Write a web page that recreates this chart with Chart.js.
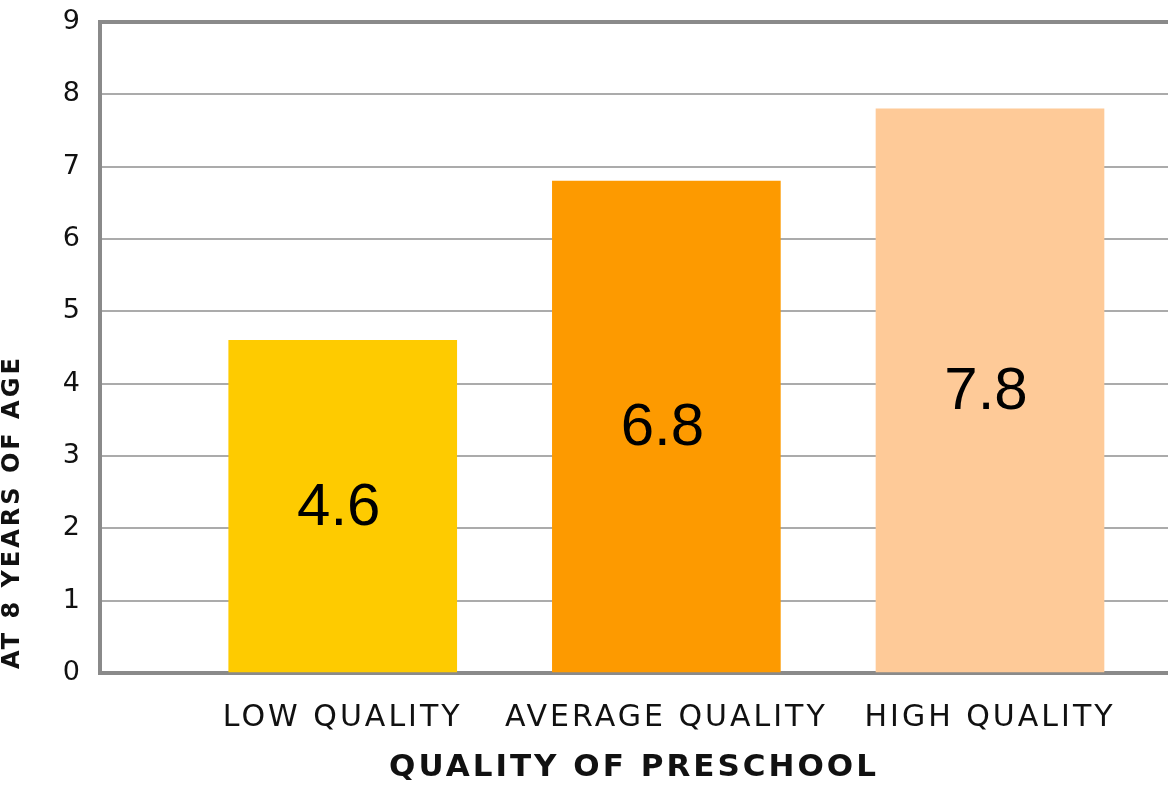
<!DOCTYPE html>
<html>
<head>
<meta charset="utf-8">
<script src="https://cdn.jsdelivr.net/npm/chart.js@4"></script>
<style>
  html, body { margin: 0; background: #fff; overflow: hidden; }
  #wrap { width: 1168px; height: 785px; position: relative; }
</style>
</head>
<body>
<div id="wrap"><canvas id="grafico"></canvas></div>
<script>
// Dados
const categorias = ["LOW QUALITY", "AVERAGE QUALITY", "HIGH QUALITY"];
const valores = [4.6, 6.8, 7.8];
const rotulos = ["4.6", "6.8", "7.8"];
const cores = ["#FECB00", "#FD9A00", "#FECA98"];
const ticksY = [0, 1, 2, 3, 4, 5, 6, 7, 8, 9];
const tituloX = "QUALITY OF PRESCHOOL";
const tituloY = "AT 8 YEARS OF AGE";

// Espaçamento de letras (a fonte original é bem larga)
const espacamento = {
  id: "espacamento",
  beforeUpdate(chart) { chart.ctx.letterSpacing = "3px"; },
  beforeDraw(chart) { chart.ctx.letterSpacing = "3px"; }
};

// Valores no meio das barras
const rotulosBarras = {
  id: "rotulosBarras",
  afterDatasetsDraw(chart) {
    const ctx = chart.ctx;
    chart.getDatasetMeta(0).data.forEach((bar, i) => {
      ctx.save();
      ctx.letterSpacing = "0px";
      ctx.font = '60px "Liberation Sans"';
      ctx.fillStyle = "#000";
      ctx.textAlign = "center";
      ctx.textBaseline = "middle";
      ctx.fillText(rotulos[i], bar.x - 4, (bar.y + bar.base) / 2 + 2);
      ctx.restore();
    });
  }
};

// Título do eixo Y, encostado na borda esquerda como no original
const tituloEixoY = {
  id: "tituloEixoY",
  afterDraw(chart) {
    const ctx = chart.ctx;
    ctx.save();
    ctx.translate(19, chart.chartArea.bottom - 4);
    ctx.rotate(-Math.PI / 2);
    ctx.font = 'bold 24px "DejaVu Sans"';
    ctx.fillStyle = "#111";
    ctx.textAlign = "left";
    ctx.textBaseline = "alphabetic";
    ctx.fillText(tituloY, 0, 0);
    ctx.restore();
  }
};

const ctx = document.getElementById("grafico").getContext("2d");
new Chart(ctx, {
  type: "bar",
  data: {
    datasets: [{
      data: valores.map((v, i) => ({ x: i, y: v })),
      backgroundColor: cores,
      barThickness: 228
    }]
  },
  options: {
    responsive: true,
    maintainAspectRatio: false,
    animation: false,
    layout: { padding: { top: 22, left: 0, right: 0, bottom: 0 } },
    plugins: { legend: { display: false }, tooltip: { enabled: false } },
    scales: {
      x: {
        type: "linear",
        offset: false,
        min: -0.75,
        max: 2.55,
        afterBuildTicks: s => { s.ticks = categorias.map((c, i) => ({ value: i })); },
        afterFit: s => { s.height = 112; s.paddingLeft = 0; s.paddingRight = 0; },
        grid: { display: false },
        border: { color: "#8a8a8a", width: 4 },
        ticks: {
          callback: v => categorias[v],
          color: "#111",
          font: { family: "DejaVu Sans", size: 30 },
          padding: 19,
          maxRotation: 0,
          autoSkip: false
        },
        title: {
          display: true,
          text: tituloX,
          color: "#111",
          font: { family: "DejaVu Sans", size: 31, weight: "bold" },
          padding: { top: 0, bottom: -2 }
        }
      },
      y: {
        min: 0,
        max: 9,
        afterBuildTicks: s => { s.ticks = ticksY.map(v => ({ value: v })); },
        afterFit: s => { s.width = 100; s.paddingTop = 0; s.paddingBottom = 0; },
        grid: {
          color: c => c.tick && c.tick.value === 9 ? "#8a8a8a" : "#ababab",
          lineWidth: c => c.tick && c.tick.value === 9 ? 4 : 2,
          drawTicks: false
        },
        border: { color: "#8a8a8a", width: 4 },
        ticks: {
          color: "#111",
          font: { family: "DejaVu Sans", size: 27 },
          padding: 17
        }
      }
    }
  },
  plugins: [espacamento, rotulosBarras, tituloEixoY]
});
</script>
</body>
</html>
